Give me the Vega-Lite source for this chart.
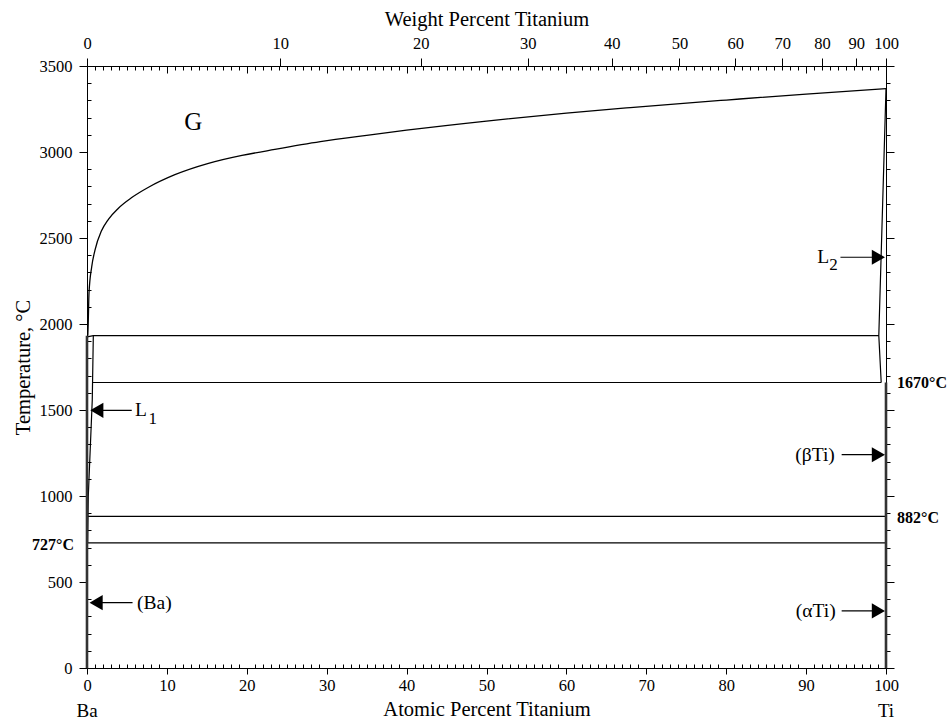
{
  "$schema": "https://vega.github.io/schema/vega-lite/v6.json",
  "width": 799,
  "height": 602,
  "autosize": "none",
  "padding": {"left": 87, "top": 66, "right": 64, "bottom": 53},
  "background": "white",
  "config": {
    "font": "Liberation Serif",
    "view": {"stroke": null},
    "axis": {
      "grid": false,
      "domainColor": "black",
      "domainWidth": 1,
      "tickColor": "black",
      "tickWidth": 1,
      "labelColor": "black",
      "titleColor": "black",
      "labelFont": "Liberation Serif",
      "titleFont": "Liberation Serif",
      "labelFontSize": 16.5,
      "titleFontSize": 20.5,
      "titleFontWeight": "normal",
      "labelFlush": false,
      "labelOverlap": false
    },
    "text": {"font": "Liberation Serif", "color": "black", "baseline": "middle"}
  },
  "datasets": {
    "lines": [
      {"id": "gas", "o": 1, "x": 0.1, "t": 1932},
      {"id": "gas", "o": 2, "x": 0.15, "t": 2000},
      {"id": "gas", "o": 3, "x": 0.25, "t": 2180},
      {"id": "gas", "o": 4, "x": 0.59, "t": 2333},
      {"id": "gas", "o": 5, "x": 1.0, "t": 2430},
      {"id": "gas", "o": 6, "x": 1.8, "t": 2540},
      {"id": "gas", "o": 7, "x": 2.7, "t": 2610},
      {"id": "gas", "o": 8, "x": 3.9, "t": 2672},
      {"id": "gas", "o": 9, "x": 5.6, "t": 2735},
      {"id": "gas", "o": 10, "x": 7.7, "t": 2795},
      {"id": "gas", "o": 11, "x": 11, "t": 2868},
      {"id": "gas", "o": 12, "x": 15.2, "t": 2934},
      {"id": "gas", "o": 13, "x": 19.4, "t": 2980},
      {"id": "gas", "o": 14, "x": 23.5, "t": 3015},
      {"id": "gas", "o": 15, "x": 29.2, "t": 3060},
      {"id": "gas", "o": 16, "x": 35, "t": 3097},
      {"id": "gas", "o": 17, "x": 40, "t": 3127},
      {"id": "gas", "o": 18, "x": 50, "t": 3180},
      {"id": "gas", "o": 19, "x": 60, "t": 3226},
      {"id": "gas", "o": 20, "x": 68, "t": 3258},
      {"id": "gas", "o": 21, "x": 80, "t": 3302},
      {"id": "gas", "o": 22, "x": 90, "t": 3337},
      {"id": "gas", "o": 23, "x": 100, "t": 3368},
      {"id": "tiliq", "o": 1, "x": 100, "t": 3368},
      {"id": "tiliq", "o": 2, "x": 99.1, "t": 1932},
      {"id": "tiliq", "o": 3, "x": 99.4, "t": 1660},
      {"id": "l1", "o": 1, "x": 0.79, "t": 1932},
      {"id": "l1", "o": 2, "x": 0.66, "t": 1560},
      {"id": "l1", "o": 3, "x": 0.16, "t": 998},
      {"id": "l1", "o": 4, "x": 0.08, "t": 727},
      {"id": "h1932", "o": 1, "x": 0.02, "t": 1925},
      {"id": "h1932", "o": 2, "x": 0.79, "t": 1932},
      {"id": "h1932", "o": 3, "x": 99.1, "t": 1932},
      {"id": "h1660", "o": 1, "x": 0.68, "t": 1660},
      {"id": "h1660", "o": 2, "x": 99.4, "t": 1660},
      {"id": "h882", "o": 1, "x": 0.1, "t": 882},
      {"id": "h882", "o": 2, "x": 100, "t": 882},
      {"id": "h727", "o": 1, "x": 0.08, "t": 727},
      {"id": "h727", "o": 2, "x": 100, "t": 727}
    ],
    "thick": [
      {"id": "Ba", "o": 1, "x": 0, "t": 0},
      {"id": "Ba", "o": 2, "x": 0, "t": 1932},
      {"id": "Ti", "o": 1, "x": 100, "t": 0},
      {"id": "Ti", "o": 2, "x": 100, "t": 1660}
    ],
    "arrows": [
      {"name": "L2", "tail": 94.3, "tip": 99.5, "hx": 99.05, "t": 2388, "dir": "right"},
      {"name": "L1", "tail": 5.6, "tip": 0.8, "hx": 1.23, "t": 1498, "dir": "left"},
      {"name": "bTi", "tail": 94.45, "tip": 99.5, "hx": 99.05, "t": 1240, "dir": "right"},
      {"name": "aTi", "tail": 94.45, "tip": 99.5, "hx": 99.05, "t": 332, "dir": "right"},
      {"name": "Ba", "tail": 5.7, "tip": 0.8, "hx": 1.14, "t": 380, "dir": "left"}
    ],
    "texts": [
      {"kind": "left", "text": "L", "x": 6.0, "t": 1500},
      {"kind": "left", "text": "(Ba)", "x": 6.26, "t": 380},
      {"kind": "right", "text": "(βTi)", "x": 93.6, "t": 1240},
      {"kind": "right", "text": "(αTi)", "x": 93.7, "t": 332},
      {"kind": "right", "text": "L", "x": 92.9, "t": 2391},
      {"kind": "sub", "text": "1", "x": 7.7, "t": 1450},
      {"kind": "sub", "text": "2", "x": 92.9, "t": 2343},
      {"kind": "phase", "text": "G", "x": 13.3, "t": 3174},
      {"kind": "tempR", "text": "1670°C", "x": 100, "t": 1655},
      {"kind": "tempR", "text": "882°C", "x": 100, "t": 874},
      {"kind": "tempL", "text": "727°C", "x": 0, "t": 716},
      {"kind": "end", "text": "Ba", "x": 0, "t": 0},
      {"kind": "end", "text": "Ti", "x": 100, "t": 0}
    ]
  },
  "layer": [
    {
      "data": {"name": "lines"},
      "transform": [{"filter": "datum.id === 'gas'"}],
      "mark": {"type": "line", "interpolate": "monotone", "color": "black", "strokeWidth": 1.3, "clip": false},
      "encoding": {
        "x": {
          "field": "x", "type": "quantitative",
          "scale": {"domain": [0, 100], "nice": false, "zero": false},
          "axis": {
            "orient": "bottom",
            "values": [0,1,2,3,4,5,6,7,8,9,10,11,12,13,14,15,16,17,18,19,20,21,22,23,24,25,26,27,28,29,30,31,32,33,34,35,36,37,38,39,40,41,42,43,44,45,46,47,48,49,50,51,52,53,54,55,56,57,58,59,60,61,62,63,64,65,66,67,68,69,70,71,72,73,74,75,76,77,78,79,80,81,82,83,84,85,86,87,88,89,90,91,92,93,94,95,96,97,98,99,100],
            "format": "d",
            "labelExpr": "datum.value % 10 === 0 ? datum.label : ''",
            "tickSize": {"condition": {"test": "datum.value % 10 === 0", "value": 6}, "value": -4},
            "labelPadding": 3,
            "labelFont": "Liberation Serif",
            "titleFont": "Liberation Serif",
            "title": "Atomic Percent Titanium",
            "titlePadding": 6
          }
        },
        "y": {
          "field": "t", "type": "quantitative",
          "scale": {"domain": [0, 3500], "nice": false, "zero": false},
          "axis": {
            "orient": "left",
            "values": [0,100,200,300,400,500,600,700,800,900,1000,1100,1200,1300,1400,1500,1600,1700,1800,1900,2000,2100,2200,2300,2400,2500,2600,2700,2800,2900,3000,3100,3200,3300,3400,3500],
            "format": "d",
            "labelExpr": "datum.value % 500 === 0 ? datum.label : ''",
            "tickSize": {"condition": {"test": "datum.value % 500 === 0", "value": 8}, "value": -4},
            "labelPadding": 7,
            "labelFont": "Liberation Serif",
            "titleFont": "Liberation Serif",
            "title": "Temperature, °C",
            "titlePadding": 6
          }
        },
        "order": {"field": "o", "type": "quantitative"}
      }
    },
    {
      "data": {"name": "lines"},
      "transform": [{"filter": "datum.id !== 'gas'"}],
      "mark": {"type": "line", "color": "black", "strokeWidth": 1.2, "clip": false},
      "encoding": {
        "x": {
          "field": "x", "type": "quantitative",
          "axis": {
            "orient": "top",
            "values": [0,1,2,3,4,5,6,7,8,9,10,11,12,13,14,15,16,17,18,19,20,21,22,23,24,24.172,25,26,27,28,29,30,31,32,33,34,35,36,37,38,39,40,41,41.767,42,43,44,45,46,47,48,49,50,51,52,53,54,55,55.148,56,57,58,59,60,61,62,63,64,65,65.667,66,67,68,69,70,71,72,73,74,74.153,75,76,77,78,79,80,81,81.144,82,83,84,85,86,87,87.003,88,89,90,91,91.984,92,93,94,95,96,96.271,97,98,99,100],
            "labelExpr": "(datum.value !== floor(datum.value) || datum.value === 0 || datum.value === 100) ? format(100*datum.value*47.867/(datum.value*47.867+(100-datum.value)*137.327), '.0f') : ''",
            "tickSize": {"condition": [{"test": "datum.value !== floor(datum.value) || datum.value === 0 || datum.value === 100", "value": 8}, {"test": "datum.value % 10 === 0", "value": -7}], "value": -4},
            "labelPadding": 7,
            "labelFont": "Liberation Serif",
            "titleFont": "Liberation Serif",
            "title": "Weight Percent Titanium",
            "titlePadding": 6
          }
        },
        "y": {
          "field": "t", "type": "quantitative",
          "axis": {
            "orient": "right",
            "values": [0,100,200,300,400,500,600,700,800,900,1000,1100,1200,1300,1400,1500,1600,1700,1800,1900,2000,2100,2200,2300,2400,2500,2600,2700,2800,2900,3000,3100,3200,3300,3400,3500],
            "labels": false,
            "tickSize": {"condition": {"test": "datum.value % 500 === 0", "value": 8}, "value": 4},
            "title": null
          }
        },
        "detail": {"field": "id", "type": "nominal"},
        "order": {"field": "o", "type": "quantitative"}
      }
    },
    {
      "data": {"name": "thick"},
      "mark": {"type": "line", "color": "#333333", "strokeWidth": 2.6, "clip": false},
      "encoding": {
        "x": {"field": "x", "type": "quantitative", "axis": null},
        "y": {"field": "t", "type": "quantitative", "axis": null},
        "detail": {"field": "id", "type": "nominal"},
        "order": {"field": "o", "type": "quantitative"}
      }
    },
    {
      "data": {"name": "arrows"},
      "mark": {"type": "rule", "color": "black", "strokeWidth": 1.2},
      "encoding": {
        "x": {"field": "tail", "type": "quantitative", "axis": null},
        "x2": {"field": "tip"},
        "y": {"field": "t", "type": "quantitative", "axis": null}
      }
    },
    {
      "data": {"name": "arrows"},
      "mark": {"type": "point", "filled": true, "color": "black", "opacity": 1, "size": 230, "strokeWidth": 0},
      "encoding": {
        "x": {"field": "hx", "type": "quantitative", "axis": null},
        "y": {"field": "t", "type": "quantitative", "axis": null},
        "shape": {"field": "dir", "type": "nominal", "scale": {"domain": ["left", "right"], "range": ["triangle-left", "triangle-right"]}, "legend": null}
      }
    },
    {
      "data": {"name": "texts"},
      "transform": [{"filter": "datum.kind === 'left'"}],
      "mark": {"type": "text", "align": "left", "fontSize": 19.5},
      "encoding": {
        "x": {"field": "x", "type": "quantitative", "axis": null},
        "y": {"field": "t", "type": "quantitative", "axis": null},
        "text": {"field": "text"}
      }
    },
    {
      "data": {"name": "texts"},
      "transform": [{"filter": "datum.kind === 'right'"}],
      "mark": {"type": "text", "align": "right", "fontSize": 19.5},
      "encoding": {
        "x": {"field": "x", "type": "quantitative", "axis": null},
        "y": {"field": "t", "type": "quantitative", "axis": null},
        "text": {"field": "text"}
      }
    },
    {
      "data": {"name": "texts"},
      "transform": [{"filter": "datum.kind === 'sub'"}],
      "mark": {"type": "text", "align": "left", "fontSize": 17},
      "encoding": {
        "x": {"field": "x", "type": "quantitative", "axis": null},
        "y": {"field": "t", "type": "quantitative", "axis": null},
        "text": {"field": "text"}
      }
    },
    {
      "data": {"name": "texts"},
      "transform": [{"filter": "datum.kind === 'phase'"}],
      "mark": {"type": "text", "align": "center", "fontSize": 25},
      "encoding": {
        "x": {"field": "x", "type": "quantitative", "axis": null},
        "y": {"field": "t", "type": "quantitative", "axis": null},
        "text": {"field": "text"}
      }
    },
    {
      "data": {"name": "texts"},
      "transform": [{"filter": "datum.kind === 'tempR'"}],
      "mark": {"type": "text", "align": "left", "dx": 11, "fontSize": 16, "fontWeight": "bold", "clip": false},
      "encoding": {
        "x": {"field": "x", "type": "quantitative", "axis": null},
        "y": {"field": "t", "type": "quantitative", "axis": null},
        "text": {"field": "text"}
      }
    },
    {
      "data": {"name": "texts"},
      "transform": [{"filter": "datum.kind === 'tempL'"}],
      "mark": {"type": "text", "align": "right", "dx": -13, "fontSize": 16, "fontWeight": "bold", "clip": false},
      "encoding": {
        "x": {"field": "x", "type": "quantitative", "axis": null},
        "y": {"field": "t", "type": "quantitative", "axis": null},
        "text": {"field": "text"}
      }
    },
    {
      "data": {"name": "texts"},
      "transform": [{"filter": "datum.kind === 'end'"}],
      "mark": {"type": "text", "align": "center", "dy": 43, "fontSize": 19, "clip": false},
      "encoding": {
        "x": {"field": "x", "type": "quantitative", "axis": null},
        "y": {"field": "t", "type": "quantitative", "axis": null},
        "text": {"field": "text"}
      }
    }
  ],
  "resolve": {"axis": {"x": "independent", "y": "independent"}}
}
